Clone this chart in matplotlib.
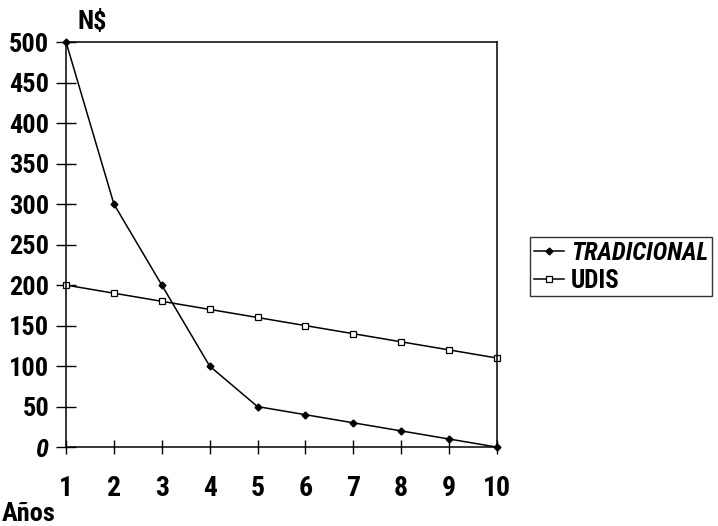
import matplotlib
matplotlib.use('Agg')
import matplotlib.pyplot as plt
from matplotlib import font_manager

# data
anios = [1, 2, 3, 4, 5, 6, 7, 8, 9, 10]
tradicional = [500, 300, 200, 100, 50, 40, 30, 20, 10, 0]
udis = [200, 190, 180, 170, 160, 150, 140, 130, 120, 110]
yticks = [0, 50, 100, 150, 200, 250, 300, 350, 400, 450, 500]

# pick a narrow bold face if one is around
names = set(f.name for f in font_manager.fontManager.ttflist)
condensed = [f.name for f in font_manager.fontManager.ttflist
             if isinstance(f.stretch, int) and f.stretch < 500 or
             f.stretch in ('condensed', 'semi-condensed', 'extra-condensed')]
fam = None
for cand in ['Liberation Sans Narrow', 'DejaVu Sans Condensed', 'Roboto Condensed',
             'Open Sans Condensed', 'Noto Sans Condensed']:
    if cand in names:
        fam = cand
        break
if fam is None and condensed:
    fam = condensed[0]
if fam is None:
    fam = 'Liberation Sans'
plt.rcParams['font.family'] = [fam, 'DejaVu Sans']
plt.rcParams['font.stretch'] = 'condensed'
plt.rcParams['font.weight'] = 'bold'

fig = plt.figure(figsize=(7.18, 5.26), dpi=100)
ax = fig.add_axes([0.092, 0.150, 0.600, 0.770])

ax.plot(anios, tradicional, color='black', lw=1.1, marker='D', ms=3.5,
        mfc='black', mec='black', label='TRADICIONAL', clip_on=False)
ax.plot(anios, udis, color='black', lw=1.1, marker='s', ms=5,
        mfc='white', mec='black', mew=0.9, label='UDIS', clip_on=False)

ax.set_xlim(1, 10)
ax.set_ylim(0, 500)
ax.set_xticks(anios)
ax.set_yticks(yticks)
ax.tick_params(axis='y', direction='inout', length=14, width=1, pad=5, labelsize=19)
ax.tick_params(axis='x', direction='inout', length=10, width=1, pad=15, labelsize=20)
for lbl in ax.get_yticklabels():
    if lbl.get_text() == '0':
        lbl.set_style('italic')
for s in ax.spines.values():
    s.set_linewidth(1.1)

fig.text(0.108, 0.958, 'N$', fontsize=19, fontweight='bold', ha='left', va='center')
fig.text(0.002, 0.022, 'Años', fontsize=19, fontweight='bold', ha='left', va='center')

leg = fig.legend(loc='upper left', bbox_to_anchor=(0.738, 0.549), frameon=True,
                 fancybox=False, edgecolor='black', fontsize=18, handlelength=1.2,
                 handletextpad=0.3, borderpad=0.15, labelspacing=0.15,
                 borderaxespad=0.0)
leg.get_frame().set_linewidth(1.0)
leg.get_texts()[0].set_style('italic')

fig.savefig('out.png', dpi=100)
